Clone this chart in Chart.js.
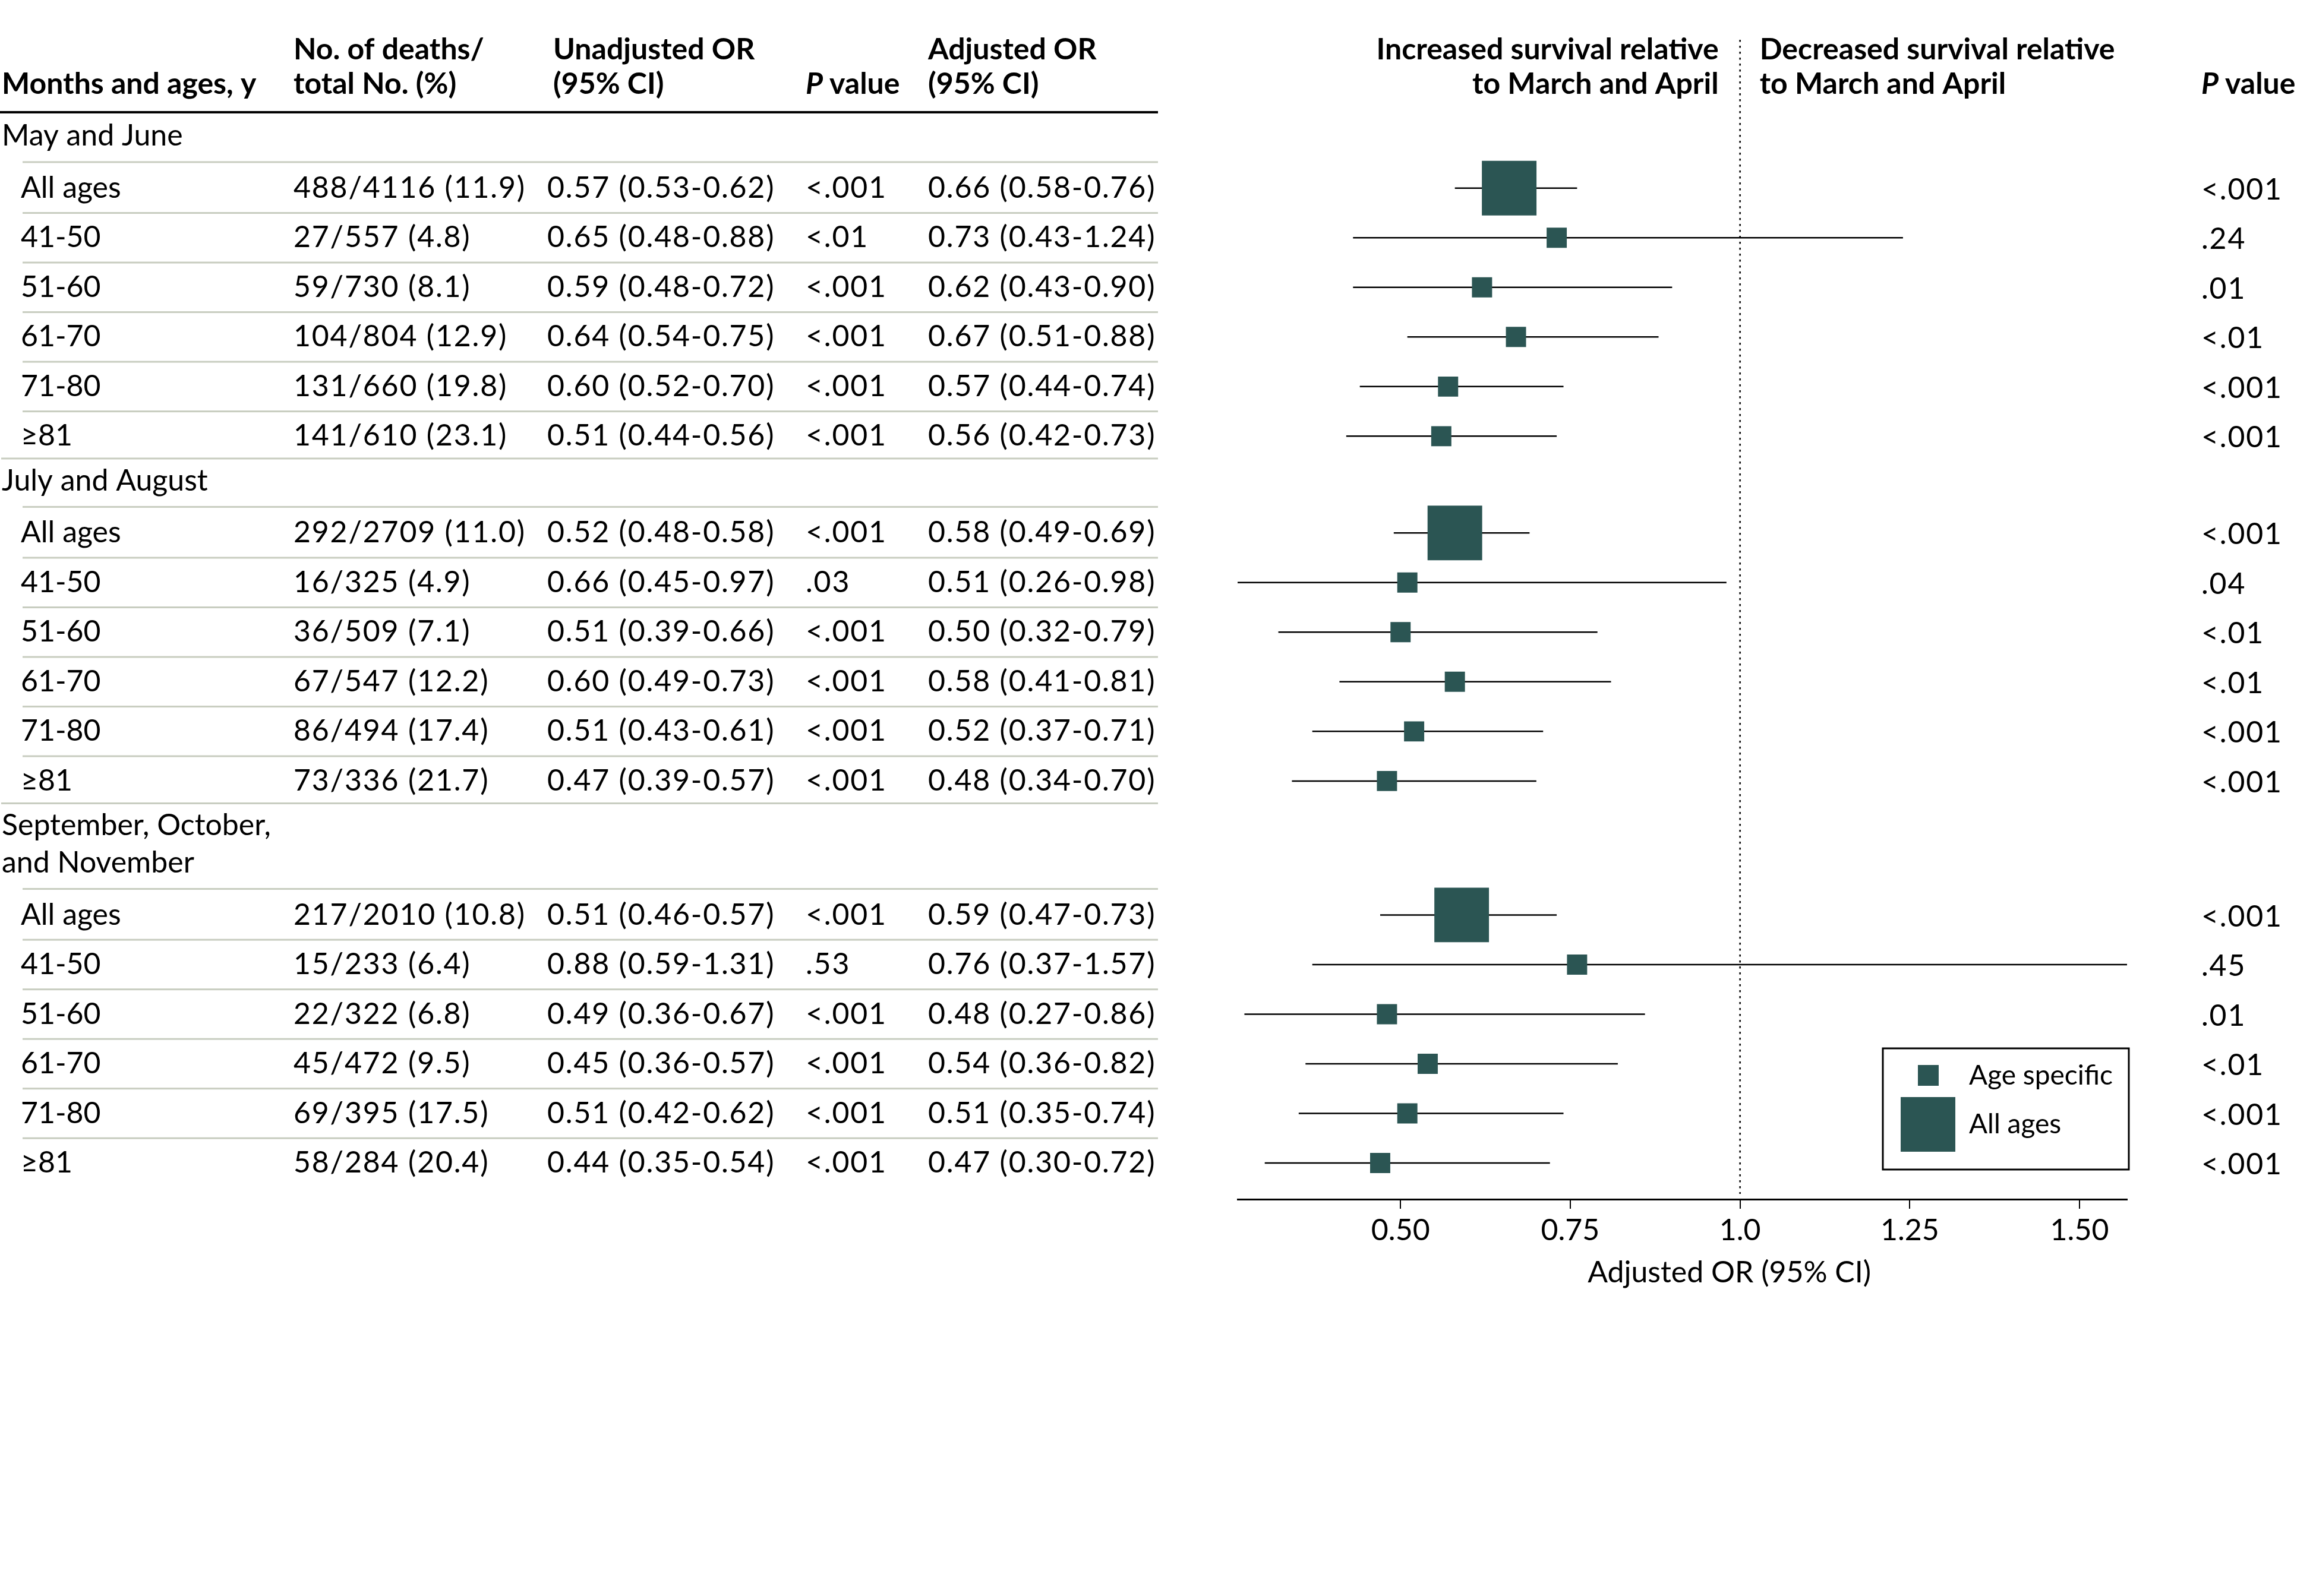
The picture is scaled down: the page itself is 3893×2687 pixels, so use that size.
<!DOCTYPE html>
<html lang="en">
<head>
<meta charset="UTF-8">
<title>Adjusted OR by months and ages</title>
<script src="https://cdn.jsdelivr.net/npm/chart.js"></script>
<style>
  html, body { margin: 0; padding: 0; background: #fff; }
  #wrap { width: 3893px; height: 2687px; position: relative; }
</style>
</head>
<body>
<div id="wrap"><canvas id="forest"></canvas></div>
<script>
// --- data ---
const groupLabels = [['May and June'], ['July and August'], ['September, October,', 'and November']];
const ageLabels = ['All ages', '41-50', '51-60', '61-70', '71-80', '\u226581'];

const mayDeaths = ['488/4116 (11.9)', '27/557 (4.8)', '59/730 (8.1)', '104/804 (12.9)', '131/660 (19.8)', '141/610 (23.1)'];
const julDeaths = ['292/2709 (11.0)', '16/325 (4.9)', '36/509 (7.1)', '67/547 (12.2)', '86/494 (17.4)', '73/336 (21.7)'];
const sepDeaths = ['217/2010 (10.8)', '15/233 (6.4)', '22/322 (6.8)', '45/472 (9.5)', '69/395 (17.5)', '58/284 (20.4)'];

const mayUnadj = ['0.57 (0.53-0.62)', '0.65 (0.48-0.88)', '0.59 (0.48-0.72)', '0.64 (0.54-0.75)', '0.60 (0.52-0.70)', '0.51 (0.44-0.56)'];
const julUnadj = ['0.52 (0.48-0.58)', '0.66 (0.45-0.97)', '0.51 (0.39-0.66)', '0.60 (0.49-0.73)', '0.51 (0.43-0.61)', '0.47 (0.39-0.57)'];
const sepUnadj = ['0.51 (0.46-0.57)', '0.88 (0.59-1.31)', '0.49 (0.36-0.67)', '0.45 (0.36-0.57)', '0.51 (0.42-0.62)', '0.44 (0.35-0.54)'];

const mayUnadjP = ['<.001', '<.01', '<.001', '<.001', '<.001', '<.001'];
const julUnadjP = ['<.001', '.03', '<.001', '<.001', '<.001', '<.001'];
const sepUnadjP = ['<.001', '.53', '<.001', '<.001', '<.001', '<.001'];

const mayOR = [0.66, 0.73, 0.62, 0.67, 0.57, 0.56];
const mayLo = [0.58, 0.43, 0.43, 0.51, 0.44, 0.42];
const mayHi = [0.76, 1.24, 0.90, 0.88, 0.74, 0.73];
const julOR = [0.58, 0.51, 0.50, 0.58, 0.52, 0.48];
const julLo = [0.49, 0.26, 0.32, 0.41, 0.37, 0.34];
const julHi = [0.69, 0.98, 0.79, 0.81, 0.71, 0.70];
const sepOR = [0.59, 0.76, 0.48, 0.54, 0.51, 0.47];
const sepLo = [0.47, 0.37, 0.27, 0.36, 0.35, 0.30];
const sepHi = [0.73, 1.57, 0.86, 0.82, 0.74, 0.72];

const mayAdjP = ['<.001', '.24', '.01', '<.01', '<.001', '<.001'];
const julAdjP = ['<.001', '.04', '<.01', '<.01', '<.001', '<.001'];
const sepAdjP = ['<.001', '.45', '.01', '<.01', '<.001', '<.001'];

const xTickValues = [0.5, 0.75, 1.0, 1.25, 1.5];
const xTickLabels = ['0.50', '0.75', '1.0', '1.25', '1.50'];

// group the arrays
const groups = [
  { deaths: mayDeaths, unadj: mayUnadj, unadjP: mayUnadjP, or: mayOR, lo: mayLo, hi: mayHi, adjP: mayAdjP },
  { deaths: julDeaths, unadj: julUnadj, unadjP: julUnadjP, or: julOR, lo: julLo, hi: julHi, adjP: julAdjP },
  { deaths: sepDeaths, unadj: sepUnadj, unadjP: sepUnadjP, or: sepOR, lo: sepLo, hi: sepHi, adjP: sepAdjP }
];

// row positions (in row units, top to bottom)
let pos = 0;
groups.forEach((g, gi) => {
  g.headerPos = groupLabels[gi].map((_, k) => pos + k * 0.75);
  pos = g.headerPos[g.headerPos.length - 1] + 1.05;
  g.rowPos = ageLabels.map((_, k) => pos + k);
  pos = g.rowPos[g.rowPos.length - 1] + 0.9;
});

const fmt = v => v.toFixed(2);
const allAgesPts = [], agePts = [], ciPts = [];
groups.forEach(g => {
  g.or.forEach((v, i) => {
    const pt = { x: v, y: g.rowPos[i] };
    if (i === 0) allAgesPts.push(pt); else agePts.push(pt);
    ciPts.push({ x: g.lo[i], y: g.rowPos[i] }, { x: g.hi[i], y: g.rowPos[i] }, { x: null, y: null });
  });
});

const FONT = 'Lato, "Noto Sans", sans-serif';
const SIZE = 50;
const TEAL = '#2b5553';
const SEP = '#c8cdc0';

// table columns
const colLabel = 3, colIndent = 35, colDeaths = 494, colUnadj = 921, colUnadjHead = 931,
      colP = 1356, colAdj = 1562, tableRight = 1949, colRightP = 3705;

function pValueHeader(ctx, x, y) {
  ctx.font = 'italic bold ' + SIZE + 'px ' + FONT;
  ctx.fillText('P', x, y);
  const w = ctx.measureText('P ').width;
  ctx.font = 'bold ' + SIZE + 'px ' + FONT;
  ctx.fillText('value', x + w, y);
}

const refLine = {
  id: 'refLine',
  beforeDatasetsDraw(chart) {
    const { ctx, chartArea, scales } = chart;
    const px = scales.x.getPixelForValue(1.0);
    ctx.save();
    ctx.strokeStyle = '#000';
    ctx.lineWidth = 2.5;
    ctx.setLineDash([3.5, 6.5]);
    ctx.beginPath();
    ctx.moveTo(px, chartArea.top);
    ctx.lineTo(px, chartArea.bottom - 9);
    ctx.stroke();
    ctx.restore();
  }
};

const tableText = {
  id: 'tableText',
  afterDraw(chart) {
    const { ctx, scales, chartArea } = chart;
    const y = v => scales.y.getPixelForValue(v);
    const hx = scales.x.getPixelForValue(1.0);
    ctx.save();
    ctx.fillStyle = '#000';
    ctx.textBaseline = 'middle';
    ctx.textAlign = 'left';

    // column headers
    const h1 = y(-1.74), h2 = y(-1.04);
    ctx.font = 'bold ' + SIZE + 'px ' + FONT;
    ctx.fillText('Months and ages, y', colLabel, h2);
    ctx.fillText('No. of deaths/', colDeaths, h1);
    ctx.fillText('total No. (%)', colDeaths, h2);
    ctx.fillText('Unadjusted OR', colUnadjHead, h1);
    ctx.fillText('(95% CI)', colUnadjHead, h2);
    ctx.fillText('Adjusted OR', colAdj, h1);
    ctx.fillText('(95% CI)', colAdj, h2);
    pValueHeader(ctx, colP, h2);
    pValueHeader(ctx, colRightP, h2);
    ctx.font = 'bold ' + SIZE + 'px ' + FONT;
    ctx.textAlign = 'right';
    ctx.fillText('Increased survival relative', hx - 36, h1);
    ctx.fillText('to March and April', hx - 36, h2);
    ctx.textAlign = 'left';
    ctx.fillText('Decreased survival relative', hx + 33, h1);
    ctx.fillText('to March and April', hx + 33, h2);

    // header rule
    ctx.fillRect(0, y(-0.48) - 2, tableRight, 4);

    // body
    ctx.font = SIZE + 'px ' + FONT;
    groups.forEach((g, gi) => {
      groupLabels[gi].forEach((t, k) => ctx.fillText(t, colLabel, y(g.headerPos[k])));
      ageLabels.forEach((lab, i) => {
        const ry = y(g.rowPos[i]);
        ctx.letterSpacing = '0px';
        ctx.fillText(lab, colIndent, ry);
        ctx.letterSpacing = '1.8px';
        ctx.fillText(g.deaths[i], colDeaths, ry);
        ctx.fillText(g.unadj[i], colUnadj, ry);
        ctx.fillText(g.unadjP[i], colP, ry);
        ctx.fillText(fmt(g.or[i]) + ' (' + fmt(g.lo[i]) + '-' + fmt(g.hi[i]) + ')', colAdj, ry);
        ctx.fillText(g.adjP[i], colRightP, ry + 3);
        ctx.letterSpacing = '0px';
      });
      // separators
      ctx.fillStyle = SEP;
      const hLast = g.headerPos[g.headerPos.length - 1];
      ctx.fillRect(colIndent + 3, y((hLast + g.rowPos[0]) / 2) - 1.5, tableRight - colIndent - 3, 3);
      for (let i = 0; i < g.rowPos.length - 1; i++) {
        ctx.fillRect(colIndent + 3, y(g.rowPos[i] + 0.5) - 1.5, tableRight - colIndent - 3, 3);
      }
      if (gi < groups.length - 1) {
        const next = groups[gi + 1].headerPos[0];
        const last = g.rowPos[g.rowPos.length - 1];
        ctx.fillRect(2, y((last + next) / 2) - 1.5, tableRight - 2, 3);
      }
      ctx.fillStyle = '#000';
    });

    // axis title, centred under the labelled tick range
    ctx.textAlign = 'center';
    ctx.fillText('Adjusted OR (95% CI)',
      (scales.x.getPixelForValue(xTickValues[0]) + scales.x.getPixelForValue(xTickValues[xTickValues.length - 1])) / 2 - 18,
      chartArea.bottom + 124);

    // legend
    ctx.textAlign = 'left';
    const lx = 3169, ly = 1765, lw = 414, lh = 204;
    ctx.strokeStyle = '#000';
    ctx.lineWidth = 3;
    ctx.strokeRect(lx, ly, lw, lh);
    ctx.fillStyle = TEAL;
    ctx.fillRect(3228, 1793, 35, 35);
    ctx.fillRect(3199, 1847, 92, 92);
    ctx.fillStyle = '#000';
    ctx.font = '46px ' + FONT;
    ctx.fillText('Age specific', 3314, 1811);
    ctx.fillText('All ages', 3314, 1893);
    ctx.restore();
  }
};

new Chart(document.getElementById('forest'), {
  type: 'scatter',
  data: {
    datasets: [
      {
        label: 'CI',
        data: ciPts,
        showLine: true,
        spanGaps: false,
        borderColor: '#000',
        borderWidth: 2.5,
        pointRadius: 0,
        order: 3
      },
      {
        label: 'Age specific',
        data: agePts,
        pointStyle: 'rect',
        pointRadius: 24,
        backgroundColor: TEAL,
        borderWidth: 0,
        order: 2
      },
      {
        label: 'All ages',
        data: allAgesPts,
        pointStyle: 'rect',
        pointRadius: 65,
        backgroundColor: TEAL,
        borderWidth: 0,
        order: 1
      }
    ]
  },
  options: {
    responsive: true,
    maintainAspectRatio: false,
    animation: false,
    layout: { padding: { left: 2083, right: 313, top: 67, bottom: 578 } },
    plugins: { legend: { display: false }, tooltip: { enabled: false } },
    scales: {
      x: {
        type: 'linear',
        min: 0.26,
        max: 1.57,
        afterBuildTicks: scale => { scale.ticks = xTickValues.map(v => ({ value: v })); },
        grid: { drawOnChartArea: false, drawTicks: true, tickLength: 16, color: '#000', lineWidth: 2 },
        border: { display: true, color: '#000', width: 3 },
        ticks: {
          color: '#000',
          font: { family: FONT, size: SIZE },
          padding: 7,
          maxRotation: 0,
          autoSkip: false,
          callback: (v, i) => xTickLabels[i]
        },
        title: { display: false }
      },
      y: {
        type: 'linear',
        display: false,
        reverse: true,
        min: -1.94,
        max: 21.43
      }
    }
  },
  plugins: [refLine, tableText]
});
</script>
</body>
</html>
